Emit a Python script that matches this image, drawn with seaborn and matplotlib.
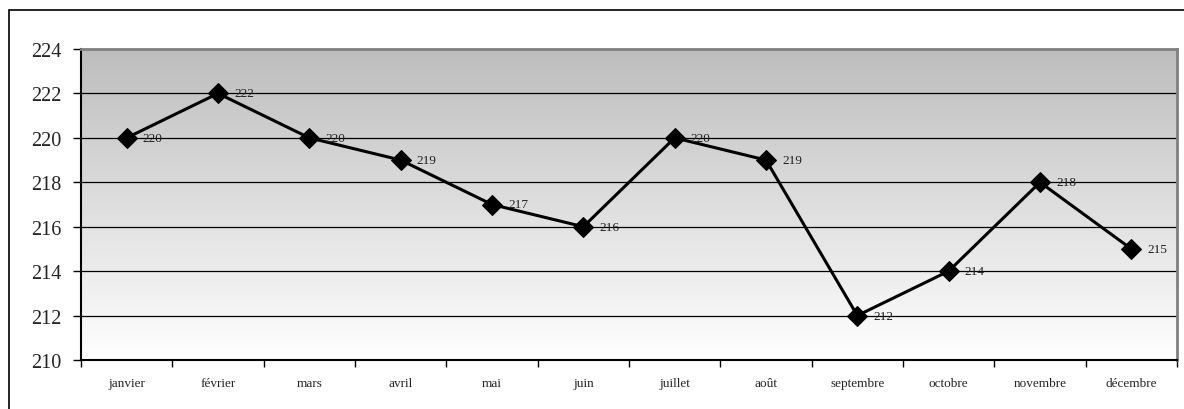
import numpy as np
import matplotlib
matplotlib.use("Agg")
import matplotlib.pyplot as plt
from matplotlib.patches import Rectangle
import seaborn as sns
import pandas as pd

months = ["janvier", "février", "mars", "avril", "mai", "juin", "juillet",
          "août", "septembre", "octobre", "novembre", "décembre"]
values = [220, 222, 220, 219, 217, 216, 220, 219, 212, 214, 218, 215]
y_ticks = [210, 212, 214, 216, 218, 220, 222, 224]

sns.set_theme(style="white")
plt.rcParams["font.family"] = ["Liberation Serif", "DejaVu Serif"]

W, H = 1184, 410
fig = plt.figure(figsize=(W / 100, H / 100), dpi=100)
fig.patch.set_facecolor("white")

# outer chart frame (runs off the right and bottom edges)
fig.add_artist(Rectangle((8.5 / W, -0.2), 2.0, 1 - 10.5 / H + 0.2,
                         transform=fig.transFigure, fill=False,
                         edgecolor="black", linewidth=1.2))

left, right, top, bottom = 81, 1177, 50, 361
ax = fig.add_axes([left / W, 1 - bottom / H, (right - left) / W, (bottom - top) / H])

df = pd.DataFrame({"pos": np.arange(len(months)), "value": values})

ax.set_xlim(-0.5, len(months) - 0.5)
ax.set_ylim(y_ticks[0], y_ticks[-1])

# vertical gray-to-white gradient background
grad = np.linspace(0, 1, 256).reshape(-1, 1)
cmap = matplotlib.colors.LinearSegmentedColormap.from_list(
    "bg", [(0, "#ffffff"), (1, "#bdbdbd")])
ax.imshow(grad, extent=[-0.5, len(months) - 0.5, y_ticks[0], y_ticks[-1]],
          origin="lower", aspect="auto", cmap=cmap, zorder=0)

for yv in y_ticks[1:-1]:
    ax.axhline(yv, color="black", linewidth=0.9, zorder=1)

sns.lineplot(data=df, x="pos", y="value", ax=ax, color="black", linewidth=2.2,
             marker="D", markersize=10, markeredgecolor="black",
             markerfacecolor="black", zorder=3)

for xv, yv in zip(df["pos"], df["value"]):
    ax.annotate(f"{yv}", (xv, yv), xytext=(11.5, 0), textcoords="offset points",
                va="center", ha="left", fontsize=9.5, color="#222222", zorder=4)

ax.set_yticks(y_ticks)
ax.set_yticklabels([str(v) for v in y_ticks], fontsize=14.5)
ax.set_xticks(np.arange(-0.5, len(months), 1.0))
ax.set_xticklabels([])
ax.set_xticks(np.arange(len(months)), minor=True)
ax.set_xticklabels(months, minor=True, fontsize=9.5)
ax.tick_params(axis="x", which="major", direction="out", length=5, width=1,
               color="black", bottom=True)
ax.tick_params(axis="x", which="minor", length=0, pad=12)
ax.tick_params(axis="y", direction="out", length=6, width=1, color="black",
               left=True, pad=8)
ax.set_xlabel("")
ax.set_ylabel("")

for side in ["left", "bottom"]:
    ax.spines[side].set_color("black")
    ax.spines[side].set_linewidth(1.5)
for side in ["top", "right"]:
    ax.spines[side].set_color("#808080")
    ax.spines[side].set_linewidth(2)
    ax.spines[side].set_visible(True)

fig.savefig("out.png", dpi=100)
